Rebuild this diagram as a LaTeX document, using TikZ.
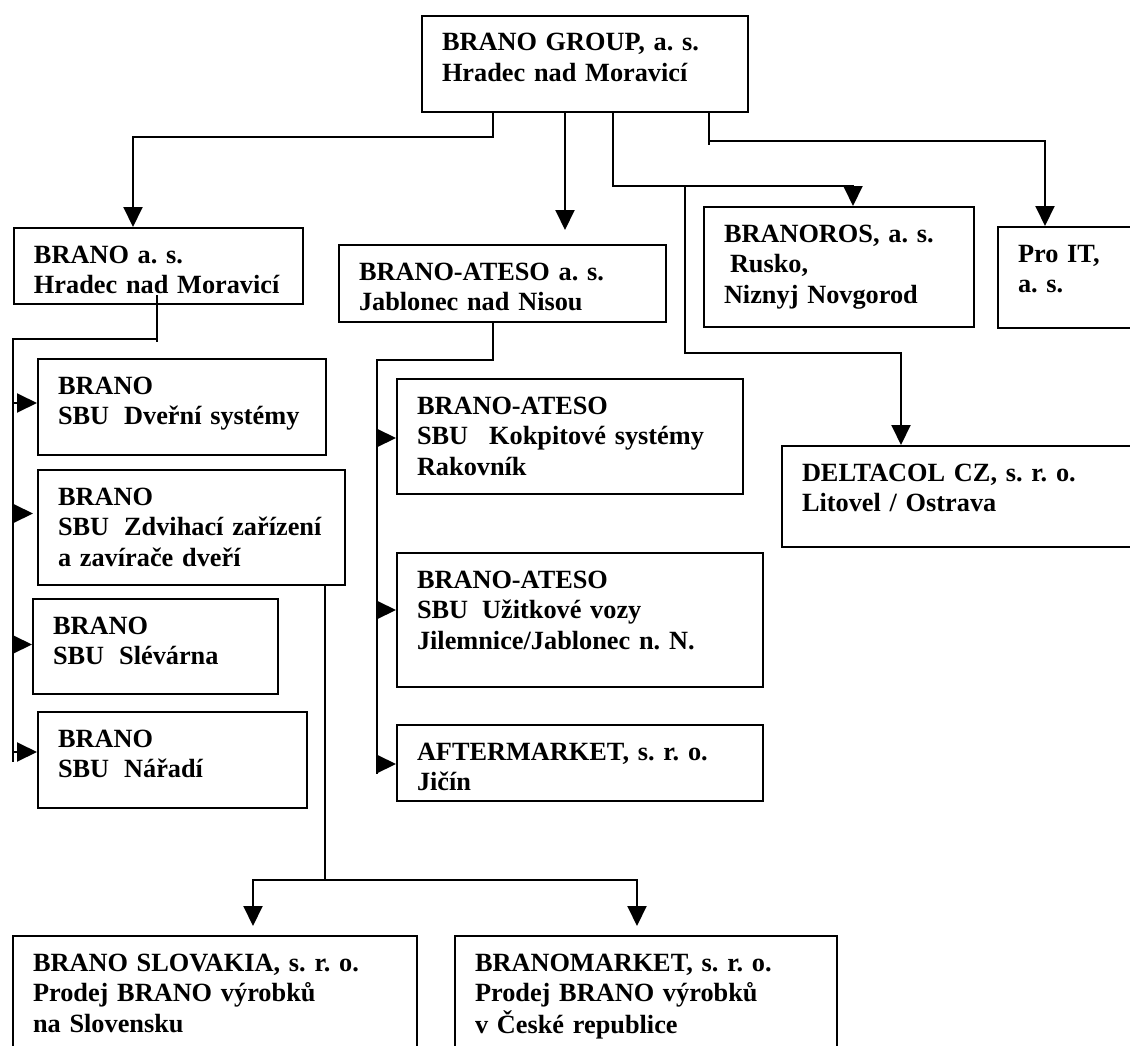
\documentclass[tikz,border=0pt]{standalone}
\usepackage{fontspec}
\setmainfont{Liberation Serif}
\usetikzlibrary{arrows.meta}
\frenchspacing

% rows of one box, never broken
\newcommand{\unitrows}[1]{\begin{tabular}[t]{@{}l@{}}#1\end{tabular}}

\tikzset{
    unit/.style={draw, line width=2pt, anchor=north west, inner xsep=20pt, inner ysep=0pt,
        text height=35pt, font=\bfseries\fontsize{26.3}{30.5}\selectfont},
    link/.style={line width=2pt},
    arr/.style={link, -{Triangle[length=20pt, width=19pt]}}
}

\begin{document}
\begin{tikzpicture}[x=1pt, y=-1pt]
    \useasboundingbox (0,0) rectangle (1130,1046);
    \clip (0,0) rectangle (1130,1046);

    % Holding
    \node[unit, text width=286pt, text depth=61pt] (group) at (421,15)
        {\unitrows{BRANO GROUP, a. s.\\ Hradec nad Moravicí}};

    % Companies
    \node[unit, text width=249pt, text depth=41pt] (brano) at (13,227)
        {\unitrows{BRANO a. s.\\ Hradec nad Moravicí}};
    \node[unit, text width=287pt, text depth=42pt] (ateso) at (338,244)
        {\unitrows{BRANO-ATESO a. s.\\ Jablonec nad Nisou}};
    \node[unit, text width=230pt, text depth=85pt] (branoros) at (703,206)
        {\unitrows{BRANOROS, a. s.\\ \hspace*{6pt}Rusko,\\ Niznyj Novgorod}};
    \node[unit, text width=110pt, text depth=66pt] (proit) at (997,226)
        {\unitrows{Pro IT,\\ a. s.}};
    \node[unit, text width=330pt, text depth=66pt] (deltacol) at (781,445)
        {\unitrows{DELTACOL CZ, s. r. o.\\ Litovel / Ostrava}};

    % SBU of BRANO
    \node[unit, text width=248pt, text depth=61pt] (dvere) at (37,358)
        {\unitrows{BRANO\\ SBU\hspace{15pt}Dveřní systémy}};
    \node[unit, text width=267pt, text depth=80pt] (zdvih) at (37,469)
        {\unitrows{BRANO\\ SBU\hspace{15pt}Zdvihací zařízení\\ a zavírače dveří}};
    \node[unit, text width=205pt, text depth=60pt] (slev) at (32,598)
        {\unitrows{BRANO\\ SBU\hspace{15pt}Slévárna}};
    \node[unit, text width=229pt, text depth=61pt] (naradi) at (37,711)
        {\unitrows{BRANO\\ SBU\hspace{15pt}Nářadí}};

    % SBU of BRANO-ATESO
    \node[unit, text width=306pt, text depth=80pt] (kokpit) at (396,378)
        {\unitrows{BRANO-ATESO\\ SBU\hspace{21pt}Kokpitové systémy\\ Rakovník}};
    \node[unit, text width=326pt, text depth=99pt] (uzit) at (396,552)
        {\unitrows{BRANO-ATESO\\ SBU\hspace{14pt}Užitkové vozy\\ Jilemnice/Jablonec n. N.}};
    \node[unit, text width=326pt, text depth=41pt] (after) at (396,724)
        {\unitrows{AFTERMARKET, s. r. o.\\ Jičín}};

    % Sales
    \node[unit, text width=364pt, text depth=95pt] (slovakia) at (12,935)
        {\unitrows{BRANO SLOVAKIA, s. r. o.\\ Prodej BRANO výrobků\\ na Slovensku}};
    \node[unit, text width=342pt, text depth=95pt] (branomarket) at (454,935)
        {\unitrows{BRANOMARKET, s. r. o.\\ Prodej BRANO výrobků\\ v České republice}};

    % Holding to companies
    \draw[arr] ([xshift=72pt]group.south west) -- ++(0,24) -| ([xshift=120pt]brano.north west);
    \draw[arr] ([xshift=144pt]group.south west) -- ([xshift=227pt, yshift=14pt]ateso.north west);
    \draw[arr] ([xshift=192pt]group.south west) -- ++(0,73) coordinate (rosbend)
        -| ([xshift=150pt]branoros.north west);
    \draw[link] ([xshift=288pt]group.south west) -- ++(0,32);
    \draw[arr] ([xshift=288pt]group.south west) ++(0,28) -| ([xshift=48pt]proit.north west);
    \draw[arr] ([xshift=72pt]rosbend) -- ++(0,167) -| ([xshift=120pt]deltacol.north west);

    % BRANO bus
    \draw[link] ([xshift=144pt, yshift=10pt]brano.south west) -- ++(0,47);
    \draw[link] ([xshift=144pt, yshift=-34pt]brano.south west)
        -- ([yshift=-34pt]brano.south west) coordinate (lbus) -- ++(0,423);
    \foreach \sbu/\dy/\gap in {dvere/4/0, zdvih/14/4, slev/2/0, naradi/8/0} {
        \coordinate (\sbu-in) at ([yshift=\dy pt]\sbu.west);
        \draw[arr, shorten >=\gap pt] (lbus |- \sbu-in) -- (\sbu-in);
    }

    % BRANO-ATESO bus
    \draw[link] ([xshift=155pt]ateso.south west)
        |- ([xshift=39pt, yshift=-37pt]ateso.south west) coordinate (abus) -- ++(0,414);
    \foreach \sbu/\dy in {kokpit/-1.5, uzit/10, after/-1} {
        \coordinate (\sbu-in) at ([yshift=\dy pt]\sbu.west);
        \draw[arr] (abus |- \sbu-in) -- (\sbu-in);
    }

    % Sales bus
    \draw[link] ([xshift=288pt]zdvih.south west) -- ++(0,294) coordinate (sbus);
    \draw[arr, shorten >=9pt] (sbus) -| ([xshift=241pt]slovakia.north west);
    \draw[arr, shorten >=9pt] (sbus) -| ([xshift=183pt]branomarket.north west);
\end{tikzpicture}
\end{document}
